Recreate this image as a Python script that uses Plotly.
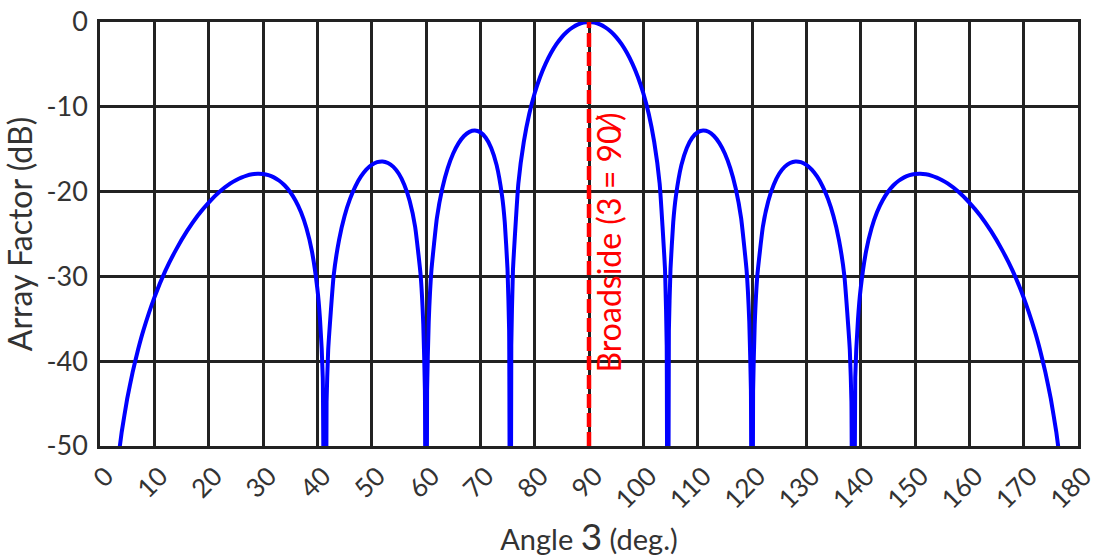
import plotly.graph_objects as go

# Array factor of the linear array, in dB, versus observation angle (degrees).
angle_deg = [
    2, 3, 4, 5, 6, 7, 8, 10, 12, 14,
    16, 18, 20, 22, 24, 25, 26, 27, 28, 29,
    30, 31, 32, 33, 34, 35, 36, 37, 38, 39,
    40, 40.5, 41, 41.41, 41.7, 42, 43, 44, 45, 46,
    47, 48, 49, 50, 51, 52, 53, 54, 55, 56,
    57, 58, 59, 59.5, 59.8, 60, 60.2, 60.5, 61, 62,
    63, 64, 65, 66, 67, 68, 69, 70, 71, 72,
    73, 74, 74.5, 75, 75.3, 75.52, 75.7, 76, 77, 78,
    79, 80, 81, 82, 83, 84, 85, 86, 87, 88,
    89, 90, 91, 92, 93, 94, 95, 96, 97, 98,
    99, 100, 101, 102, 103, 104, 104.3, 104.48, 104.7, 105,
    105.5, 106, 107, 108, 109, 110, 111, 112, 113, 114,
    115, 116, 117, 118, 119, 119.5, 119.8, 120, 120.2, 120.5,
    121, 122, 123, 124, 125, 126, 127, 128, 129, 130,
    131, 132, 133, 134, 135, 136, 137, 138, 138.3, 138.59,
    139, 139.5, 140, 141, 142, 143, 144, 145, 146, 147,
    148, 149, 150, 151, 152, 153, 154, 155, 156, 158,
    160, 162, 164, 166, 168, 170, 172, 173, 174, 175,
    176, 177, 178,
]
af_db = [
    -60.40, -53.34, -48.33, -44.45, -41.31, -38.65, -36.33, -32.50, -29.38, -26.84,
    -24.67, -22.81, -21.29, -20.02, -19.04, -18.66, -18.35, -18.11, -17.96, -17.89,
    -17.92, -18.06, -18.32, -18.72, -19.28, -20.05, -21.08, -22.44, -24.32, -27.03,
    -31.43, -35.13, -41.96, -100.0, -44.80, -38.64, -29.94, -25.68, -22.90, -20.89,
    -19.38, -18.24, -17.40, -16.84, -16.52, -16.44, -16.62, -17.08, -17.90, -19.18,
    -21.10, -24.14, -29.77, -35.63, -43.50, -100.0, -43.40, -35.37, -29.27, -23.14,
    -19.62, -17.23, -15.51, -14.28, -13.44, -12.95, -12.80, -13.01, -13.65, -14.85,
    -16.88, -20.51, -23.62, -29.12, -36.40, -100.0, -38.10, -29.33, -19.03, -14.13,
    -10.85, -8.40, -6.48, -4.93, -3.66, -2.62, -1.78, -1.12, -0.63, -0.28,
    -0.07, 0.00, -0.07, -0.28, -0.63, -1.12, -1.78, -2.62, -3.66, -4.93,
    -6.48, -8.40, -10.85, -14.13, -19.03, -29.33, -38.10, -100.0, -36.40, -29.12,
    -23.62, -20.51, -16.88, -14.85, -13.65, -13.01, -12.80, -12.95, -13.44, -14.28,
    -15.51, -17.23, -19.62, -23.14, -29.27, -35.37, -43.40, -100.0, -43.50, -35.63,
    -29.77, -24.14, -21.10, -19.18, -17.90, -17.08, -16.62, -16.44, -16.52, -16.84,
    -17.40, -18.24, -19.38, -20.89, -22.90, -25.68, -29.94, -38.64, -44.80, -100.0,
    -41.96, -35.13, -31.43, -27.03, -24.32, -22.44, -21.08, -20.05, -19.28, -18.72,
    -18.32, -18.06, -17.92, -17.89, -17.96, -18.11, -18.35, -18.66, -19.04, -20.02,
    -21.29, -22.81, -24.67, -26.84, -29.38, -32.50, -36.33, -38.65, -41.31, -44.45,
    -48.33, -53.34, -60.40,
]
assert len(angle_deg) == len(af_db)

broadside_angle = 90
x_range = [0, 180]
y_range = [-50, 0]
x_ticks = list(range(0, 181, 10))
y_ticks = list(range(-50, 1, 10))
y_tick_text = ["-50", "-40", "-30", "-20", "-10", "0"]

FONT = "Lato"
TEXT = "#333333"
GRID = "#222222"

fig = go.Figure()

fig.add_trace(go.Scatter(
    x=angle_deg, y=af_db, mode="lines",
    line=dict(color="#0000ff", width=4, shape="spline", smoothing=0.4),
    hoverinfo="skip", showlegend=False,
))

# Broadside direction marker
fig.add_trace(go.Scatter(
    x=[broadside_angle, broadside_angle], y=y_range, mode="lines",
    line=dict(color="#ff0000", width=4.5, dash="14px,5px"),
    hoverinfo="skip", showlegend=False,
))

fig.add_annotation(
    x=broadside_angle, y=-26.0, xref="x", yref="y",
    text="Broadside (3 = 90\u2044)", textangle=-90, showarrow=False,
    xanchor="center", yanchor="middle", xshift=19,
    font=dict(family=FONT, size=32, color="#ff0000"),
)

fig.update_layout(
    width=1098, height=558,
    margin=dict(l=100, r=20, t=22, b=112, autoexpand=False),
    paper_bgcolor="white", plot_bgcolor="white",
    font=dict(family=FONT, color=TEXT),
)

fig.update_xaxes(
    range=x_range, tickmode="array", tickvals=x_ticks,
    ticktext=[str(v) for v in x_ticks], tickangle=-45,
    tickfont=dict(family=FONT, size=26, color=TEXT),
    showgrid=True, gridcolor=GRID, gridwidth=2.5,
    showline=True, linecolor=GRID, linewidth=2.5, mirror=True,
    zeroline=False, ticks="", ticklabelshift=6, ticklabelstandoff=2,
    ticklabeloverflow="allow", automargin=False,
    title=dict(
        text="Angle <span style='font-size:37px'>3</span> (deg.)",
        font=dict(family=FONT, size=29, color=TEXT), standoff=12,
    ),
)
fig.update_yaxes(
    range=y_range, tickmode="array", tickvals=y_ticks, ticktext=y_tick_text,
    tickfont=dict(family=FONT, size=27, color=TEXT),
    showgrid=True, gridcolor=GRID, gridwidth=2.5,
    showline=True, linecolor=GRID, linewidth=2.5, mirror=True,
    zeroline=False, ticks="", ticklabelstandoff=4, ticklabeloverflow="allow",
    automargin=False,
    title=dict(text="Array Factor (dB)",
               font=dict(family=FONT, size=32, color=TEXT), standoff=8),
)

fig.write_html("out.html")
